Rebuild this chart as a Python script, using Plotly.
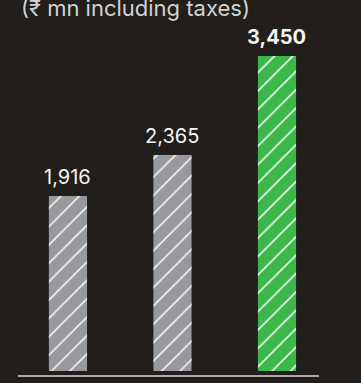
import plotly.graph_objects as go

# data
categories = ["FY22", "FY23", "FY24"]
values = [1916, 2365, 3450]
value_labels = ["1,916", "2,365", "3,450"]
bar_colors = ["#98999d", "#98999d", "#3cb84a"]
label_bold = [False, False, True]

BG = "#211e1b"
FONT = "Inter"
STRIPE = "#f4f4f4"

x_pos = list(range(len(categories)))

fig = go.Figure()

# solid bars
fig.add_trace(
    go.Bar(
        x=x_pos,
        y=values,
        width=0.365,
        marker=dict(color=bar_colors, line=dict(width=0)),
        hoverinfo="skip",
    )
)

# white diagonal hatching laid over the same bars
fig.add_trace(
    go.Bar(
        x=x_pos,
        y=values,
        width=0.365,
        marker=dict(
            color=STRIPE,
            line=dict(width=0),
            pattern=dict(shape="/", fillmode="replace", size=13, solidity=0.12),
        ),
        hoverinfo="skip",
    )
)

for i, (v, lab) in enumerate(zip(values, value_labels)):
    fig.add_annotation(
        x=x_pos[i],
        y=v,
        text=f"<b>{lab}</b>" if label_bold[i] else lab,
        showarrow=False,
        yanchor="bottom",
        yshift=5,
        font=dict(family=FONT, size=20, color="#f4f4f4"),
    )

# unit note at the top, partly cropped
fig.add_annotation(
    xref="paper", yref="paper",
    x=0, y=1,
    xanchor="left", yanchor="bottom",
    xshift=1, yshift=-23,
    text="(₹ mn including taxes)",
    showarrow=False,
    font=dict(family=FONT, size=22, color="#d2d2d2"),
)

# baseline
fig.add_shape(
    type="line", xref="paper", yref="paper",
    x0=0, x1=1, y0=0, y1=0,
    line=dict(color="#d9d9d9", width=1.5),
)

fig.update_layout(
    width=361,
    height=383,
    margin=dict(l=18, r=42, t=0, b=7),
    paper_bgcolor=BG,
    plot_bgcolor=BG,
    showlegend=False,
    barmode="overlay",
    xaxis=dict(range=[-0.478, 2.402], visible=False, fixedrange=True),
    yaxis=dict(range=[-55, 4063], visible=False, fixedrange=True),
)

fig.write_html(
    "out.html",
    config={"displayModeBar": False},
    post_script=f"document.body.style.margin='0';document.body.style.background='{BG}';",
)
